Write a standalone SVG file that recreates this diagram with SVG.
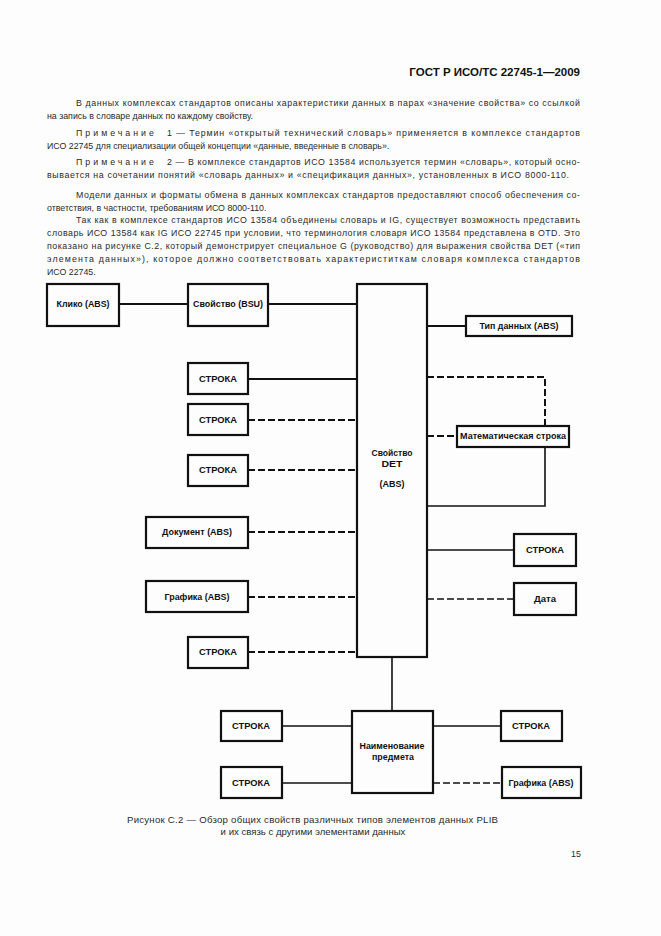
<svg xmlns="http://www.w3.org/2000/svg" width="661" height="936" viewBox="0 0 661 936">
<style>
.t{font-family:"Liberation Sans",Arial,sans-serif;font-size:8.8px;fill:#2a2a2a}
.c{font-family:"Liberation Sans",Arial,sans-serif;font-size:9.6px;fill:#2a2a2a}
.h{font-family:"Liberation Sans",Arial,sans-serif;font-size:11.5px;font-weight:bold;fill:#111}
.lb{font-family:"Liberation Sans",Arial,sans-serif;font-size:8.5px;font-weight:bold;fill:#111;text-anchor:middle}
.box{fill:none;stroke:#111;stroke-width:2.2}
.s{fill:none;stroke:#111;stroke-width:2}
.s2{fill:none;stroke:#111;stroke-width:1.6}
.d{fill:none;stroke:#111;stroke-width:2;stroke-dasharray:7 3}
.d2{fill:none;stroke:#111;stroke-width:1.6;stroke-dasharray:7 3}
</style>
<rect width="661" height="936" fill="#fdfdfd"/>
<g id="page-text">
<text class="h" x="580" y="76" text-anchor="end">ГОСТ Р ИСО/ТС 22745-1—2009</text>
<text class="t" x="76" y="106" textLength="504" lengthAdjust="spacing">В данных комплексах стандартов описаны характеристики данных в парах «значение свойства» со ссылкой</text>
<text class="t" x="47" y="119">на запись в словаре данных по каждому свойству.</text>
<text class="t" x="76" y="136" letter-spacing="3">Примечание</text>
<text class="t" x="167" y="136" textLength="413" lengthAdjust="spacing">1 — Термин «открытый технический словарь» применяется в комплексе стандартов</text>
<text class="t" x="47" y="149">ИСО 22745 для специализации общей концепции «данные, введенные в словарь».</text>
<text class="t" x="76" y="165" letter-spacing="3">Примечание</text>
<text class="t" x="167" y="165" textLength="413" lengthAdjust="spacing">2 — В комплексе стандартов ИСО 13584 используется термин «словарь», который осно-</text>
<text class="t" x="47" y="178" textLength="522" lengthAdjust="spacing">вывается на сочетании понятий «словарь данных» и «спецификация данных», установленных в ИСО 8000-110.</text>
<text class="t" x="76" y="198" textLength="504" lengthAdjust="spacing">Модели данных и форматы обмена в данных комплексах стандартов предоставляют способ обеспечения со-</text>
<text class="t" x="47" y="211">ответствия, в частности, требованиям ИСО 8000-110.</text>
<text class="t" x="76" y="223" textLength="504" lengthAdjust="spacing">Так как в комплексе стандартов ИСО 13584 объединены словарь и IG, существует возможность представить</text>
<text class="t" x="47" y="236" textLength="533" lengthAdjust="spacing">словарь ИСО 13584 как IG ИСО 22745 при условии, что терминология словаря ИСО 13584 представлена в OTD. Это</text>
<text class="t" x="47" y="249" textLength="533" lengthAdjust="spacing">показано на рисунке С.2, который демонстрирует специальное G (руководство) для выражения свойства DET («тип</text>
<text class="t" x="47" y="262" textLength="533" lengthAdjust="spacing">элемента данных»), которое должно соответствовать характериститкам словаря комплекса стандартов</text>
<text class="t" x="47" y="275">ИСО 22745.</text>
<text class="c" x="127" y="823" textLength="371" lengthAdjust="spacing">Рисунок  С.2 — Обзор общих свойств различных типов элементов данных PLIB</text>
<text class="c" x="313" y="835" text-anchor="middle">и их связь с другими элементами данных</text>
<text class="t" x="576" y="857" text-anchor="middle">15</text>
</g>
<g id="connectors">
<line class="s" x1="119" y1="304" x2="188" y2="304"/>
<line class="s" x1="268" y1="304" x2="357" y2="304"/>
<line class="s" x1="248" y1="379" x2="357" y2="379"/>
<line class="d" x1="248" y1="420" x2="357" y2="420"/>
<line class="d" x1="248" y1="470" x2="357" y2="470"/>
<line class="d" x1="248" y1="532" x2="357" y2="532"/>
<line class="d" x1="248" y1="597" x2="357" y2="597"/>
<line class="d" x1="248" y1="652" x2="357" y2="652"/>
<line class="s" x1="427" y1="326" x2="466" y2="326"/>
<polyline class="d" points="427,377 545,377 545,426"/>
<line class="d" x1="427" y1="436" x2="457" y2="436"/>
<polyline class="s2" points="545,447 545,506 427,506"/>
<line class="s2" x1="427" y1="550" x2="514" y2="550"/>
<line class="d2" x1="427" y1="599" x2="514" y2="599"/>
<line class="s2" x1="392" y1="657" x2="392" y2="711"/>
<line class="s2" x1="282" y1="726" x2="352" y2="726"/>
<line class="s2" x1="282" y1="783" x2="352" y2="783"/>
<line class="s2" x1="433" y1="726" x2="501" y2="726"/>
<line class="d2" x1="433" y1="783" x2="502" y2="783"/>
</g>
<g id="n-kliko"><rect class="box" x="47" y="284" width="72" height="42"/><text class="lb" x="83" y="307" textLength="53" lengthAdjust="spacingAndGlyphs">Клико (ABS)</text></g>
<g id="n-svoistvo-bsu"><rect class="box" x="188" y="284" width="80" height="42"/><text class="lb" x="228" y="307" textLength="70" lengthAdjust="spacingAndGlyphs">Свойство (BSU)</text></g>
<g id="n-det"><rect class="box" x="357" y="284" width="70" height="373"/>
<text class="lb" x="392" y="456" textLength="41" lengthAdjust="spacingAndGlyphs">Свойство</text>
<text class="lb" x="392" y="467" textLength="21" lengthAdjust="spacingAndGlyphs">DET</text>
<text class="lb" x="392" y="487" textLength="25" lengthAdjust="spacingAndGlyphs">(ABS)</text></g>
<g id="n-stroka1"><rect class="box" x="188" y="363" width="60" height="31"/><text class="lb" x="218" y="382" textLength="38" lengthAdjust="spacingAndGlyphs">СТРОКА</text></g>
<g id="n-stroka2"><rect class="box" x="188" y="404" width="60" height="31"/><text class="lb" x="218" y="423" textLength="38" lengthAdjust="spacingAndGlyphs">СТРОКА</text></g>
<g id="n-stroka3"><rect class="box" x="188" y="455" width="60" height="31"/><text class="lb" x="218" y="473" textLength="38" lengthAdjust="spacingAndGlyphs">СТРОКА</text></g>
<g id="n-dokument"><rect class="box" x="146" y="517" width="102" height="31"/><text class="lb" x="197" y="535" textLength="70" lengthAdjust="spacingAndGlyphs">Документ (ABS)</text></g>
<g id="n-grafika1"><rect class="box" x="146" y="581" width="102" height="31"/><text class="lb" x="197" y="600" textLength="65" lengthAdjust="spacingAndGlyphs">Графика (ABS)</text></g>
<g id="n-stroka4"><rect class="box" x="188" y="637" width="60" height="31"/><text class="lb" x="218" y="655" textLength="38" lengthAdjust="spacingAndGlyphs">СТРОКА</text></g>
<g id="n-tip"><rect class="box" x="466" y="316" width="106" height="20"/><text class="lb" x="519" y="329" textLength="79" lengthAdjust="spacingAndGlyphs">Тип данных (ABS)</text></g>
<g id="n-math"><rect class="box" x="457" y="426" width="112" height="21"/><text class="lb" x="513" y="439" textLength="106" lengthAdjust="spacingAndGlyphs">Математическая строка</text></g>
<g id="n-stroka5"><rect class="box" x="514" y="534" width="62" height="32"/><text class="lb" x="545" y="553" textLength="38" lengthAdjust="spacingAndGlyphs">СТРОКА</text></g>
<g id="n-data"><rect class="box" x="514" y="583" width="62" height="32"/><text class="lb" x="545" y="602" textLength="22" lengthAdjust="spacingAndGlyphs">Дата</text></g>
<g id="n-naim"><rect class="box" x="352" y="711" width="81" height="82"/>
<text class="lb" x="392" y="749" textLength="65" lengthAdjust="spacingAndGlyphs">Наименование</text>
<text class="lb" x="393" y="760" textLength="42" lengthAdjust="spacingAndGlyphs">предмета</text></g>
<g id="n-stroka6"><rect class="box" x="221" y="711" width="61" height="30"/><text class="lb" x="251" y="729" textLength="38" lengthAdjust="spacingAndGlyphs">СТРОКА</text></g>
<g id="n-stroka7"><rect class="box" x="221" y="767" width="61" height="31"/><text class="lb" x="251" y="786" textLength="38" lengthAdjust="spacingAndGlyphs">СТРОКА</text></g>
<g id="n-stroka8"><rect class="box" x="501" y="711" width="61" height="30"/><text class="lb" x="531" y="729" textLength="38" lengthAdjust="spacingAndGlyphs">СТРОКА</text></g>
<g id="n-grafika2"><rect class="box" x="502" y="767" width="79" height="31"/><text class="lb" x="541" y="786" textLength="65" lengthAdjust="spacingAndGlyphs">Графика (ABS)</text></g>
</svg>
